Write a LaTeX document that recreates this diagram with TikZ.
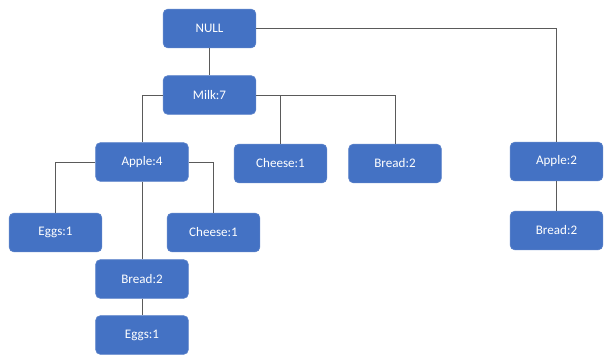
\documentclass[tikz,border=0pt]{standalone}
\usepackage{fontspec}
\setmainfont{Carlito}
\begin{document}
\begin{tikzpicture}[x=0.75pt,y=-0.75pt]
  \definecolor{boxblue}{HTML}{4472C4}
  \definecolor{boxedge}{HTML}{5B82C9}
  \definecolor{linkgray}{HTML}{5A5A5A}
  \tikzset{
    item/.style={rectangle, rounded corners=3.5pt, fill=boxblue, draw=boxedge,
      line width=0.5pt, minimum width=69.5pt, minimum height=29pt, inner sep=0pt,
      text=white, font=\fontsize{9.8pt}{11pt}\selectfont},
    link/.style={draw=linkgray, line width=0.75pt}
  }
  \useasboundingbox (0,0) rectangle (610,362);
  % tree nodes
  \node[item] (null)    at (209.5,28.5) {NULL};
  \node[item] (milk)    at (209.5,95)   {Milk:7};
  \node[item] (apple4)  at (142,162)    {Apple:4};
  \node[item] (cheeseA) at (280.5,163.5){Cheese:1};
  \node[item] (breadA)  at (395,163.5)  {Bread:2};
  \node[item] (eggsA)   at (55.5,232.5) {Eggs:1};
  \node[item] (cheeseB) at (213.5,232.5){Cheese:1};
  \node[item] (breadB)  at (142,279)    {Bread:2};
  \node[item] (eggsB)   at (142,335)    {Eggs:1};
  \node[item] (apple2)  at (556.5,161.5){Apple:2};
  \node[item] (breadC)  at (556.5,230.5){Bread:2};
  % connectors
  \path[link] (null) -- (milk);
  \path[link] (null.east) -| (apple2.north);
  \path[link] (milk.west) -| (apple4.north);
  \path[link] (milk.east) -| (cheeseA.north);
  \path[link] (milk.east) -| (breadA.north);
  \path[link] (apple4.west) -| (eggsA.north);
  \path[link] (apple4.east) -| (cheeseB.north);
  \path[link] (apple4) -- (breadB);
  \path[link] (breadB) -- (eggsB);
  \path[link] (apple2) -- (breadC);
\end{tikzpicture}
\end{document}
